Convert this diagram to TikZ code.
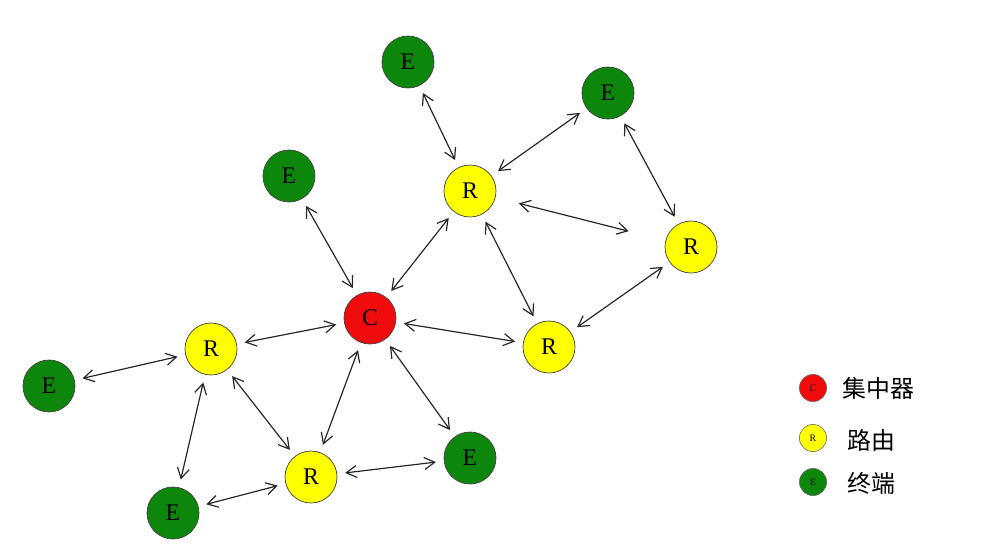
\documentclass[tikz,border=0pt]{standalone}
\usepackage{fontspec}
\setmainfont{Liberation Serif}
\newfontfamily\cjk{Noto Sans CJK SC}
\usetikzlibrary{arrows.meta}
\definecolor{cred}{RGB}{240,12,12}
\definecolor{cyellow}{RGB}{255,255,0}
\definecolor{cgreen}{RGB}{12,135,12}

\begin{document}
\begin{tikzpicture}[x=0.025cm,y=-0.025cm,
  dev/.style={circle,draw=black!75,line width=0.5pt,minimum size=1.3cm,inner sep=0pt,font=\fontsize{17}{17}\selectfont},
  key/.style={circle,draw=black!60,line width=0.4pt,minimum size=0.68cm,inner sep=0pt,font=\fontsize{7}{7}\selectfont},
  link/.style={<->,>={Straight Barb[length=2.6mm,width=3mm]},draw=black!85,line width=0.85pt,shorten >=0.2cm,shorten <=0.2cm}]
\useasboundingbox (0,0) rectangle (986,553);
% concentrator
\node[dev,fill=cred] (c) at (370,318) {C};
% routers
\node[dev,fill=cyellow] (r1) at (470,191) {R};
\node[dev,fill=cyellow] (r2) at (691,247) {R};
\node[dev,fill=cyellow] (r3) at (549,347) {R};
\node[dev,fill=cyellow] (r4) at (211,349) {R};
\node[dev,fill=cyellow] (r5) at (311,477) {R};
% end devices
\node[dev,fill=cgreen] (e1) at (408,62) {E};
\node[dev,fill=cgreen] (e2) at (608,93) {E};
\node[dev,fill=cgreen] (e3) at (289,176) {E};
\node[dev,fill=cgreen] (e4) at (49,386) {E};
\node[dev,fill=cgreen] (e5) at (470,458) {E};
\node[dev,fill=cgreen] (e6) at (173,513) {E};

\foreach \a/\b in {e1/r1,r1/e2,e2/r2,r1/r3,r1/c,e3/c,c/r3,r3/r2,c/r4,c/r5,c/e5,r4/e4,r4/e6,r4/r5,r5/e6,r5/e5}
  \draw[link] (\a) -- (\b);
\draw[link,shorten <=0.6cm,shorten >=0.95cm] (r1) -- (r2);

% legend
\node[key,fill=cred] (kc) at (813,388) {C};
\node[key,fill=cyellow] (kr) at (813,438) {R};
\node[key,fill=cgreen] (ke) at (813,482) {E};
\node[anchor=west,inner sep=0pt,font=\cjk\fontsize{17}{17}\selectfont] (tc) at (842,388) {集中器};
\node[anchor=west,inner sep=0pt,font=\cjk\fontsize{17}{17}\selectfont] (tr) at (847,440) {路由};
\node[anchor=west,inner sep=0pt,font=\cjk\fontsize{17}{17}\selectfont] (te) at (847,483) {终端};

\end{tikzpicture}
\end{document}
